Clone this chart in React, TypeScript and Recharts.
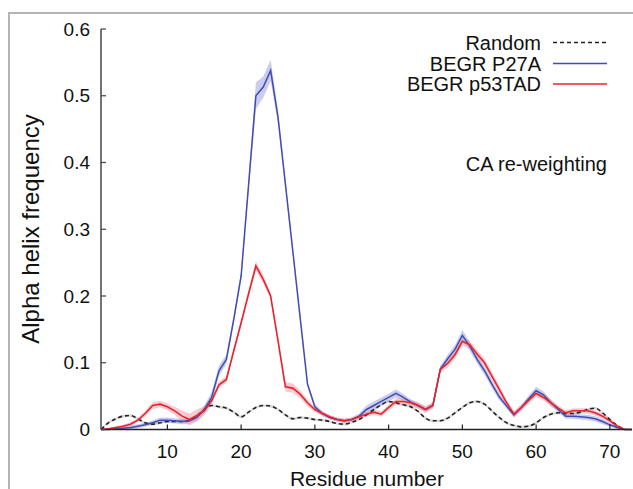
import React from 'react';
import { ComposedChart, Line, Area, XAxis, YAxis } from 'recharts';

// residue index along the chain
const residues = Array.from({ length: 73 }, (_, i) => i + 1);

const randomCoil = [
  0, 0.010, 0.016, 0.020, 0.021, 0.016, 0.010, 0.008, 0.010, 0.012,
  0.012, 0.012, 0.014, 0.020, 0.030, 0.036, 0.034, 0.032, 0.026, 0.019,
  0.026, 0.033, 0.036, 0.035, 0.030, 0.022, 0.016, 0.018, 0.017, 0.015,
  0.014, 0.012, 0.009, 0.008, 0.011, 0.015, 0.022, 0.030, 0.037, 0.042,
  0.040, 0.037, 0.034, 0.027, 0.017, 0.013, 0.013, 0.017, 0.025, 0.033,
  0.040, 0.042, 0.038, 0.028, 0.018, 0.010, 0.006, 0.004, 0.005, 0.010,
  0.018, 0.023, 0.025, 0.024, 0.024, 0.026, 0.030, 0.032, 0.025, 0.015,
  0.006, 0, null,
];

const p27a = [
  0, 0, 0.001, 0.002, 0.003, 0.005, 0.007, 0.010, 0.014, 0.014,
  0.013, 0.012, 0.013, 0.018, 0.030, 0.048, 0.088, 0.105, 0.165, 0.230,
  0.365, 0.500, 0.513, 0.538, 0.468, 0.368, 0.268, 0.168, 0.068, 0.034,
  0.024, 0.018, 0.015, 0.013, 0.015, 0.020, 0.030, 0.036, 0.042, 0.048,
  0.054, 0.048, 0.041, 0.036, 0.030, 0.036, 0.090, 0.106, 0.120, 0.141,
  0.125, 0.105, 0.088, 0.068, 0.049, 0.035, 0.022, 0.033, 0.046, 0.058,
  0.052, 0.040, 0.030, 0.020, 0.020, 0.019, 0.018, 0.016, 0.012, 0.007,
  0.003, 0, 0,
];

const p27aErr = [
  0.001, 0.001, 0.002, 0.002, 0.003, 0.003, 0.003, 0.003, 0.004, 0.004,
  0.004, 0.004, 0.004, 0.005, 0.006, 0.008, 0.008, 0.007, 0.006, 0.006,
  0.008, 0.020, 0.016, 0.016, 0.010, 0.006, 0.005, 0.005, 0.004, 0.004,
  0.004, 0.003, 0.003, 0.003, 0.003, 0.004, 0.006, 0.006, 0.006, 0.006,
  0.006, 0.005, 0.004, 0.004, 0.004, 0.004, 0.005, 0.006, 0.007, 0.008,
  0.007, 0.006, 0.006, 0.006, 0.005, 0.004, 0.004, 0.004, 0.005, 0.006,
  0.005, 0.005, 0.004, 0.004, 0.004, 0.004, 0.004, 0.004, 0.004, 0.003,
  0.002, 0.001, 0,
];

const p53tad = [
  0, 0.001, 0.003, 0.005, 0.008, 0.014, 0.024, 0.036, 0.038, 0.034,
  0.028, 0.020, 0.015, 0.021, 0.028, 0.043, 0.067, 0.075, 0.118, 0.160,
  0.203, 0.245, 0.225, 0.200, 0.133, 0.064, 0.062, 0.053, 0.040, 0.030,
  0.024, 0.019, 0.015, 0.013, 0.015, 0.019, 0.023, 0.026, 0.023, 0.033,
  0.042, 0.042, 0.040, 0.036, 0.030, 0.036, 0.090, 0.099, 0.112, 0.132,
  0.127, 0.113, 0.100, 0.080, 0.060, 0.040, 0.023, 0.033, 0.044, 0.054,
  0.048, 0.040, 0.032, 0.025, 0.028, 0.028, 0.028, 0.025, 0.020, 0.013,
  0.005, 0, 0,
];

const p53tadErr = [
  0.001, 0.001, 0.002, 0.002, 0.003, 0.003, 0.004, 0.005, 0.005, 0.005,
  0.006, 0.008, 0.009, 0.009, 0.007, 0.005, 0.005, 0.005, 0.005, 0.005,
  0.005, 0.007, 0.006, 0.005, 0.005, 0.007, 0.007, 0.006, 0.005, 0.004,
  0.003, 0.003, 0.003, 0.003, 0.003, 0.003, 0.004, 0.004, 0.004, 0.004,
  0.005, 0.005, 0.005, 0.005, 0.005, 0.005, 0.005, 0.006, 0.006, 0.006,
  0.006, 0.006, 0.006, 0.006, 0.006, 0.005, 0.005, 0.005, 0.005, 0.005,
  0.005, 0.005, 0.004, 0.004, 0.004, 0.004, 0.004, 0.004, 0.004, 0.003,
  0.002, 0.001, 0,
];

const randomErr = 0.002;

const xTicks = [10, 20, 30, 40, 50, 60, 70];
const yTicks = [0, 0.1, 0.2, 0.3, 0.4, 0.5, 0.6];

const band = (v: number | null, e: number) =>
  v == null ? null : [Math.max(0, v - e), v + e];

const data = residues.map((r, i) => ({
  res: r,
  random: randomCoil[i],
  p27a: p27a[i],
  p53tad: p53tad[i],
  randomBand: band(randomCoil[i], randomErr),
  p27aBand: band(p27a[i], p27aErr[i]),
  p53tadBand: band(p53tad[i], p53tadErr[i]),
}));

const FONT = '"Liberation Sans", Arial, Helvetica, sans-serif';
const BLUE = '#3f4db3';
const RED = '#e8232b';

export default function App() {
  const tick = { fill: '#111', fontSize: 19, fontFamily: FONT };
  return (
    <div style={{ position: 'absolute', left: 0, top: 0, width: 633, height: 489, background: '#fff', overflow: 'hidden' }}>
      <div style={{ position: 'absolute', left: 8, top: 12, right: -4, bottom: -4, borderTop: '2px solid #b4b4b4', borderLeft: '2px solid #b4b4b4' }} />
      <ComposedChart
        width={633}
        height={489}
        data={data}
        margin={{ top: 29, right: 1, left: 61, bottom: 29.5 }}
        style={{ position: 'absolute', left: 0, top: 0 }}
      >
        <XAxis
          type="number"
          dataKey="res"
          domain={[1, 73]}
          ticks={xTicks}
          height={30}
          tickSize={-5}
          tickMargin={20}
          tick={tick}
          stroke="#222"
          axisLine={{ stroke: '#222', strokeWidth: 1.5 }}
          tickLine={{ stroke: '#222', strokeWidth: 1.2 }}
        />
        <YAxis
          type="number"
          domain={[0, 0.6]}
          ticks={yTicks}
          width={40}
          tickSize={-5}
          tickMargin={16}
          tick={tick}
          stroke="#444"
          tickFormatter={(v: number) => (v === 0 ? '0' : v.toFixed(1))}
          axisLine={{ stroke: '#444', strokeWidth: 1.5 }}
          tickLine={{ stroke: '#444', strokeWidth: 1.2 }}
        />
        <Area
          type="monotone"
          dataKey="randomBand"
          stroke="none"
          fill="#999"
          fillOpacity={0.35}
          isAnimationActive={false}
        />
        <Area
          type="linear"
          dataKey="p27aBand"
          stroke="none"
          fill="#8a90d8"
          fillOpacity={0.45}
          isAnimationActive={false}
        />
        <Area
          type="linear"
          dataKey="p53tadBand"
          stroke="none"
          fill="#f08a98"
          fillOpacity={0.45}
          isAnimationActive={false}
        />
        <Line
          type="monotone"
          dataKey="random"
          stroke="#222"
          strokeWidth={1.6}
          strokeDasharray="4 3"
          dot={false}
          isAnimationActive={false}
        />
        <Line
          type="linear"
          dataKey="p27a"
          stroke={BLUE}
          strokeWidth={1.5}
          dot={false}
          isAnimationActive={false}
        />
        <Line
          type="linear"
          dataKey="p53tad"
          stroke={RED}
          strokeWidth={1.6}
          dot={false}
          isAnimationActive={false}
        />
      </ComposedChart>
      <svg width={633} height={489} style={{ position: 'absolute', left: 0, top: 0, pointerEvents: 'none' }}>
        <g fontFamily={FONT} fontSize={20} fill="#111" textAnchor="end">
          <text x={541} y={50}>Random</text>
          <text x={541} y={71}>BEGR P27A</text>
          <text x={541} y={91}>BEGR p53TAD</text>
        </g>
        <line x1={553} x2={607} y1={42.5} y2={42.5} stroke="#222" strokeWidth={1.4} strokeDasharray="4 3" />
        <line x1={553} x2={607} y1={63.5} y2={63.5} stroke={BLUE} strokeWidth={1.6} />
        <line x1={553} x2={607} y1={84} y2={84} stroke={RED} strokeWidth={1.6} />
        <text x={607} y={171} fontFamily={FONT} fontSize={20} fill="#111" textAnchor="end">
          CA re-weighting
        </text>
        <text x={367} y={486} fontFamily={FONT} fontSize={21} fill="#111" textAnchor="middle">
          Residue number
        </text>
        <text
          x={39}
          y={229}
          fontFamily={FONT}
          fontSize={24}
          fill="#111"
          textAnchor="middle"
          transform="rotate(-90 39 229)"
        >
          Alpha helix frequency
        </text>
      </svg>
    </div>
  );
}
